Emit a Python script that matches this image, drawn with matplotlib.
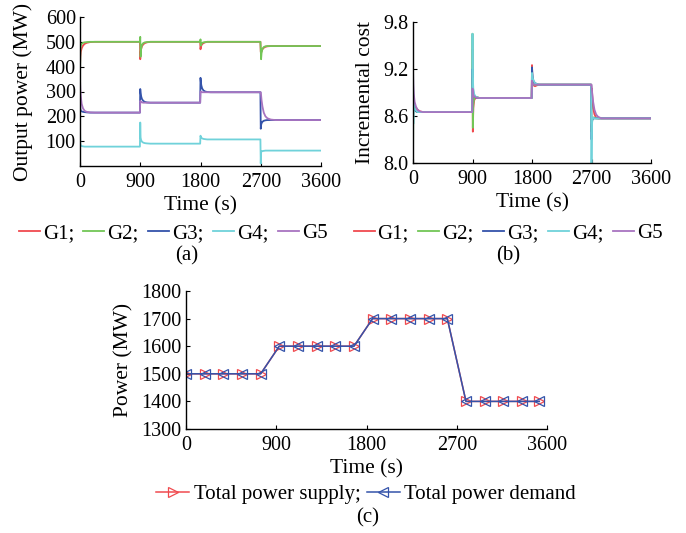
import matplotlib
matplotlib.use('Agg')
import matplotlib.pyplot as plt

plt.rcParams['font.family'] = ['Liberation Serif', 'DejaVu Serif']

# time samples (s) used for panels (a) and (b)
t_ab = [0, 5, 12, 25, 45, 70, 100, 150, 220, 895,
        900, 905, 912, 925, 945, 970, 1000, 1050, 1120, 1795,
        1800, 1805, 1812, 1825, 1845, 1870, 1900, 1950, 2020, 2695,
        2700, 2705, 2712, 2725, 2745, 2770, 2800, 2850, 2920, 3600]

# (a) output power (MW)
p_g1 = [400, 440, 460, 474, 485, 492, 496, 499, 500, 500,
        430, 455, 470, 482, 490, 495, 498, 500, 500, 500,
        470, 478, 485, 491, 495, 498, 500, 500, 500, 500,
        460, 456, 462, 470, 476, 480, 482, 483, 483, 483]
p_g2 = [350, 470, 485, 492, 496, 498, 499, 500, 500, 500,
        520, 440, 470, 488, 495, 498, 499, 500, 500, 500,
        510, 485, 492, 496, 498, 499, 500, 500, 500, 500,
        470, 430, 455, 472, 479, 482, 483, 483, 483, 483]
p_g3 = [280, 230, 222, 220, 218, 217, 216, 215, 215, 215,
        310, 295, 282, 270, 262, 258, 256, 255, 255, 255,
        355, 340, 325, 312, 304, 300, 298, 297, 297, 297,
        150, 165, 172, 178, 182, 184, 185, 185, 185, 185]
p_g4 = [150, 90, 82, 80, 79, 78, 78, 78, 78, 78,
        175, 115, 105, 98, 94, 92, 91, 90, 90, 90,
        122, 117, 114, 111, 109, 108, 107, 107, 107, 107,
        10, 60, 58, 60, 61, 62, 62, 62, 62, 62]
p_g5 = [350, 310, 280, 250, 232, 222, 218, 216, 215, 215,
        262, 260, 258, 256, 255, 255, 255, 255, 255, 255,
        300, 299, 298, 297, 297, 297, 297, 297, 297, 297,
        297, 285, 265, 240, 215, 200, 192, 187, 185, 185]

# (b) incremental cost
c_g1 = [8.90, 8.80, 8.75, 8.72, 8.70, 8.68, 8.66, 8.65, 8.65, 8.65,
        9.45, 8.40, 8.70, 8.80, 8.83, 8.84, 8.83, 8.83, 8.83, 8.83,
        9.25, 9.10, 9.03, 8.99, 8.98, 8.99, 9.00, 9.00, 9.00, 9.00,
        8.90, 8.95, 8.85, 8.70, 8.62, 8.58, 8.57, 8.57, 8.57, 8.57]
c_g2 = [8.00, 8.80, 8.70, 8.68, 8.66, 8.65, 8.65, 8.65, 8.65, 8.65,
        9.65, 8.45, 8.75, 8.82, 8.84, 8.84, 8.83, 8.83, 8.83, 8.83,
        9.15, 9.05, 9.02, 9.00, 9.00, 9.00, 9.00, 9.00, 9.00, 9.00,
        8.40, 8.50, 8.55, 8.58, 8.58, 8.57, 8.57, 8.57, 8.57, 8.57]
c_g3 = [9.00, 8.80, 8.72, 8.68, 8.66, 8.65, 8.65, 8.65, 8.65, 8.65,
        9.20, 9.00, 8.90, 8.86, 8.84, 8.83, 8.83, 8.83, 8.83, 8.83,
        9.22, 9.15, 9.08, 9.04, 9.02, 9.01, 9.00, 9.00, 9.00, 9.00,
        8.30, 8.50, 8.55, 8.57, 8.57, 8.57, 8.57, 8.57, 8.57, 8.57]
c_g4 = [9.40, 8.50, 8.80, 8.70, 8.67, 8.65, 8.65, 8.65, 8.65, 8.65,
        9.65, 9.10, 8.95, 8.88, 8.85, 8.84, 8.83, 8.83, 8.83, 8.83,
        9.15, 9.12, 9.08, 9.05, 9.02, 9.01, 9.00, 9.00, 9.00, 9.00,
        8.00, 8.45, 8.55, 8.58, 8.57, 8.57, 8.57, 8.57, 8.57, 8.57]
c_g5 = [9.20, 9.00, 8.88, 8.78, 8.72, 8.68, 8.66, 8.65, 8.65, 8.65,
        8.95, 8.90, 8.87, 8.85, 8.84, 8.83, 8.83, 8.83, 8.83, 8.83,
        9.05, 9.03, 9.01, 9.00, 9.00, 9.00, 9.00, 9.00, 9.00, 9.00,
        9.00, 8.95, 8.88, 8.78, 8.68, 8.62, 8.59, 8.57, 8.57, 8.57]

# (c) total supply / demand (MW)
t_c = [0, 186, 372, 558, 745, 930, 1117, 1303, 1490, 1675,
       1861, 2048, 2234, 2420, 2606, 2792, 2979, 3165, 3351, 3523]
supply = [1500]*5 + [1600]*5 + [1700]*5 + [1400]*5
demand = [1500]*5 + [1600]*5 + [1700]*5 + [1400]*5

names = ['G1;', 'G2;', 'G3;', 'G4;', 'G5']
colors = ['#f04a4f', '#72c656', '#3453aa', '#70d2da', '#a874c0']
time_ticks = [0, 900, 1800, 2700, 3600]

fig = plt.figure(figsize=(6.86, 5.33), dpi=100)
W, H = 686, 533
FS_TICK, FS_LAB, FS_LEG = 14.5, 15.5, 15


def px_axes(l, t, r, b):
    return fig.add_axes([l / W, 1 - b / H, (r - l) / W, (b - t) / H])


def style(ax, ypad):
    for s in ['top', 'right']:
        ax.spines[s].set_visible(False)
    for s in ['left', 'bottom']:
        ax.spines[s].set_linewidth(1.0)
    ax.tick_params(direction='in', length=3, width=0.8, labelsize=FS_TICK)
    ax.tick_params(axis='x', pad=5)
    ax.tick_params(axis='y', pad=3)
    ax.set_xlim(0, 3600)
    ax.set_xticks(time_ticks)
    ax.set_xlabel('Time (s)', fontsize=FS_LAB, labelpad=3)
    ax.yaxis.labelpad = ypad


def legend_at(ax, x, y, ncol):
    ax.legend(loc='center', bbox_to_anchor=(x / W, 1 - y / H), bbox_transform=fig.transFigure,
              ncol=ncol, frameon=False, fontsize=FS_LEG, handlelength=1.0, handletextpad=0.15,
              columnspacing=0.45, borderpad=0, borderaxespad=0)


ax1 = px_axes(80, 17, 321, 166)
for y, c, n in zip([p_g1, p_g2, p_g3, p_g4, p_g5], colors, names):
    ax1.plot(t_ab, y, color=c, lw=1.3, label=n)
ax1.set_ylim(0, 600)
ax1.set_yticks([100, 200, 300, 400, 500, 600])
ax1.set_ylabel('Output power (MW)', fontsize=FS_LAB)
style(ax1, 9)
legend_at(ax1, 173, 233, 5)
fig.text(187 / W, 1 - 256 / H, '(a)', ha='center', va='center', fontsize=FS_LEG)

ax2 = px_axes(413, 22, 651, 163)
for y, c, n in zip([c_g1, c_g2, c_g3, c_g4, c_g5], colors, names):
    ax2.plot(t_ab, y, color=c, lw=1.3, label=n)
ax2.set_ylim(8.0, 9.8)
ax2.set_yticks([8.0, 8.6, 9.2, 9.8])
ax2.set_yticklabels(['8.0', '8.6', '9.2', '9.8'])
ax2.set_ylabel('Incremental cost', fontsize=FS_LAB)
style(ax2, 6)
legend_at(ax2, 508, 233, 5)
fig.text(508 / W, 1 - 256 / H, '(b)', ha='center', va='center', fontsize=FS_LEG)

ax3 = px_axes(186, 291, 547, 429)
ax3.plot(t_c, supply, color='#f04a4f', lw=1.1, marker='>', ms=7.5, mfc='none', mew=0.9,
         label='Total power supply;')
ax3.plot(t_c, demand, color='#3453aa', lw=1.1, marker='<', ms=7.5, mfc='none', mew=0.9,
         label='Total power demand')
ax3.set_ylim(1300, 1800)
ax3.set_yticks([1300, 1400, 1500, 1600, 1700, 1800])
ax3.set_ylabel('Power (MW)', fontsize=FS_LAB)
style(ax3, 6)
ax3.legend(loc='center', bbox_to_anchor=(366 / W, 1 - 494 / H), bbox_transform=fig.transFigure,
           ncol=2, frameon=False, fontsize=FS_LEG, handlelength=1.6, handletextpad=0.2,
           columnspacing=0.3, borderpad=0, borderaxespad=0)
fig.text(368 / W, 1 - 518 / H, '(c)', ha='center', va='center', fontsize=FS_LEG)

fig.savefig('out.png', dpi=100)
